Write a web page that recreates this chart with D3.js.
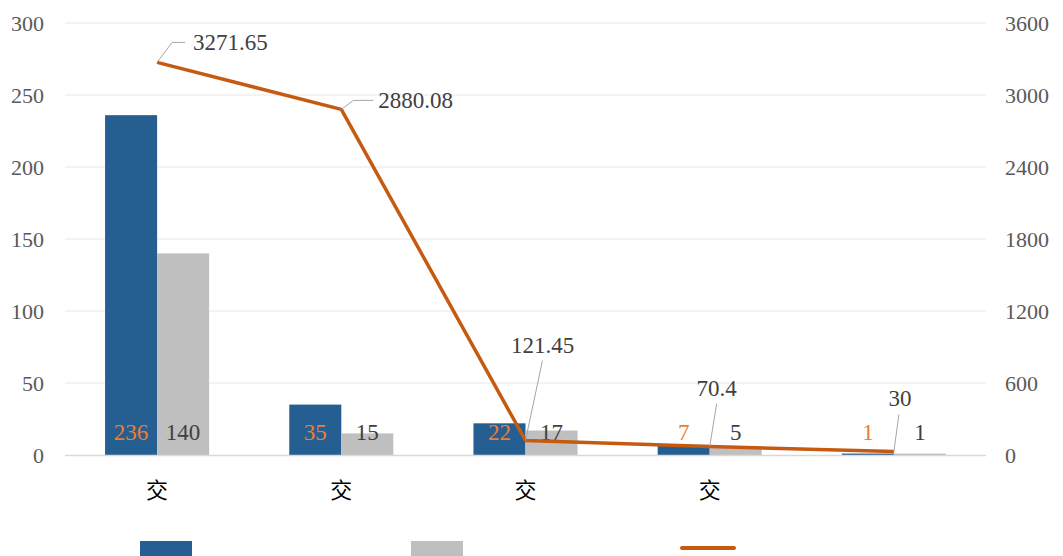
<!DOCTYPE html>
<html><head><meta charset="utf-8">
<script src="https://cdn.jsdelivr.net/npm/d3@7"></script>
<style>body{margin:0;background:#fff;}svg{display:block;}</style>
</head><body>
<svg id="c" width="1063" height="556"></svg>
<script>
const categories = ["交", "交", "交", "交", ""];
const seriesA = [236, 35, 22, 7, 1];
const seriesB = [140, 15, 17, 5, 1];
const lineValues = [3271.65, 2880.08, 121.45, 70.4, 30];
const lineLabels = ["3271.65", "2880.08", "121.45", "70.4", "30"];
const leftTicks = [0, 50, 100, 150, 200, 250, 300];
const rightTicks = [0, 600, 1200, 1800, 2400, 3000, 3600];

const svg = d3.select("#c");
const L = 65, R = 986, T = 23, B = 455;
const serif = "'Liberation Serif','Times New Roman',serif";
const idx = categories.map((d, i) => i);
const x = d3.scaleBand().domain(idx).range([L, R]).padding(0);
const xs = d3.scaleBand().domain(["a", "b"]).range([0, x.bandwidth()]).paddingInner(0).paddingOuter(0.77);
const yL = d3.scaleLinear().domain([0, 300]).range([B, T]);
const yR = d3.scaleLinear().domain([0, 3600]).range([B, T]);

// gridlines
svg.append("g").selectAll("line").data(leftTicks.filter(d => d > 0)).join("line")
  .attr("x1", L).attr("x2", R).attr("y1", d => yL(d)).attr("y2", d => yL(d))
  .attr("stroke", "#EFEFEF").attr("stroke-width", 1.5);

// left axis
const gl = svg.append("g").attr("transform", `translate(${L},0)`)
  .call(d3.axisLeft(yL).tickValues(leftTicks).tickFormat(d3.format("d")).tickSize(0).tickPadding(21));
gl.select(".domain").remove();
gl.attr("font-family", serif);
gl.selectAll("text").attr("font-family", serif).attr("font-size", 22).attr("fill", "#595959");

// right axis
const gr = svg.append("g").attr("transform", `translate(${R},0)`)
  .call(d3.axisRight(yR).tickValues(rightTicks).tickFormat(d3.format("d")).tickSize(0).tickPadding(19));
gr.select(".domain").remove();
gr.attr("font-family", serif);
gr.selectAll("text").attr("font-family", serif).attr("font-size", 22).attr("fill", "#595959");

// bars
const bars = svg.append("g");
bars.selectAll("rect.a").data(seriesA).join("rect").attr("class", "a")
  .attr("x", (d, i) => x(i) + xs("a")).attr("width", xs.bandwidth())
  .attr("y", d => yL(d)).attr("height", d => B - yL(d)).attr("fill", "#255E91");
bars.selectAll("rect.b").data(seriesB).join("rect").attr("class", "b")
  .attr("x", (d, i) => x(i) + xs("b")).attr("width", xs.bandwidth())
  .attr("y", d => yL(d)).attr("height", d => B - yL(d)).attr("fill", "#BFBFBF");

// bottom axis line
svg.append("line").attr("x1", L).attr("x2", R).attr("y1", B + 0.5).attr("y2", B + 0.5)
  .attr("stroke", "#D9D9D9").attr("stroke-width", 1.5);

// x labels
const gx = svg.append("g").attr("transform", `translate(0,${B})`)
  .call(d3.axisBottom(x).tickFormat(i => categories[i]).tickSize(0).tickPadding(27));
gx.select(".domain").remove();
gx.selectAll("text").attr("font-family", "'Noto Sans CJK SC',sans-serif").attr("font-size", 22).attr("fill", "#000");

// bar labels
svg.append("g").selectAll("text").data(seriesA).join("text")
  .attr("x", (d, i) => x(i) + xs("a") + xs.bandwidth() / 2).attr("y", B - 15)
  .attr("text-anchor", "middle").attr("font-family", serif).attr("font-size", 23)
  .attr("fill", "#ED7D31").text(d => d);
svg.append("g").selectAll("text").data(seriesB).join("text")
  .attr("x", (d, i) => x(i) + xs("b") + xs.bandwidth() / 2).attr("y", B - 15)
  .attr("text-anchor", "middle").attr("font-family", serif).attr("font-size", 23)
  .attr("fill", "#404040").text(d => d);

// line
const cx = i => x(i) + x.bandwidth() / 2;
const line = d3.line().x((d, i) => cx(i)).y(d => yR(d));
svg.append("path").datum(lineValues).attr("d", line).attr("fill", "none")
  .attr("stroke", "#C55A11").attr("stroke-width", 3.5).attr("stroke-linejoin", "round");

// line labels with leader lines (offsets relative to point)
const labelOff = [
  {lx: [15, 28], ly: -20, tx: 36, ty: -20, anchor: "start"},
  {lx: [12, 32], ly: -9, tx: 37, ty: -9, anchor: "start"},
  {lx: [17, 17], ly: -80, tx: 17, ty: -95, anchor: "middle"},
  {lx: [7, 7], ly: -43, tx: 7, ty: -59, anchor: "middle"},
  {lx: [5, 5], ly: -37, tx: 6, ty: -53, anchor: "middle"}
];
const lg = svg.append("g");
lineValues.forEach((v, i) => {
  const px = cx(i), py = yR(v), o = labelOff[i];
  let pts;
  if (o.anchor === "start") pts = [[px, py], [px + o.lx[0], py + o.ly], [px + o.lx[1], py + o.ly]];
  else pts = [[px, py], [px + o.lx[0], py + o.ly]];
  lg.append("path").attr("d", d3.line()(pts)).attr("fill", "none").attr("stroke", "#A6A6A6").attr("stroke-width", 1);
  lg.append("text").attr("x", px + o.tx).attr("y", py + o.ty).attr("dy", "0.35em")
    .attr("text-anchor", o.anchor).attr("font-family", serif).attr("font-size", 23)
    .attr("fill", "#404040").text(lineLabels[i]);
});

// legend (swatches only)
const lgd = svg.append("g");
lgd.append("rect").attr("x", 140).attr("y", 541).attr("width", 52).attr("height", 15).attr("fill", "#255E91");
lgd.append("rect").attr("x", 411).attr("y", 541).attr("width", 52).attr("height", 15).attr("fill", "#BFBFBF");
lgd.append("line").attr("x1", 682).attr("x2", 734).attr("y1", 548).attr("y2", 548)
  .attr("stroke", "#C55A11").attr("stroke-width", 4).attr("stroke-linecap", "round");
</script>
</body></html>
